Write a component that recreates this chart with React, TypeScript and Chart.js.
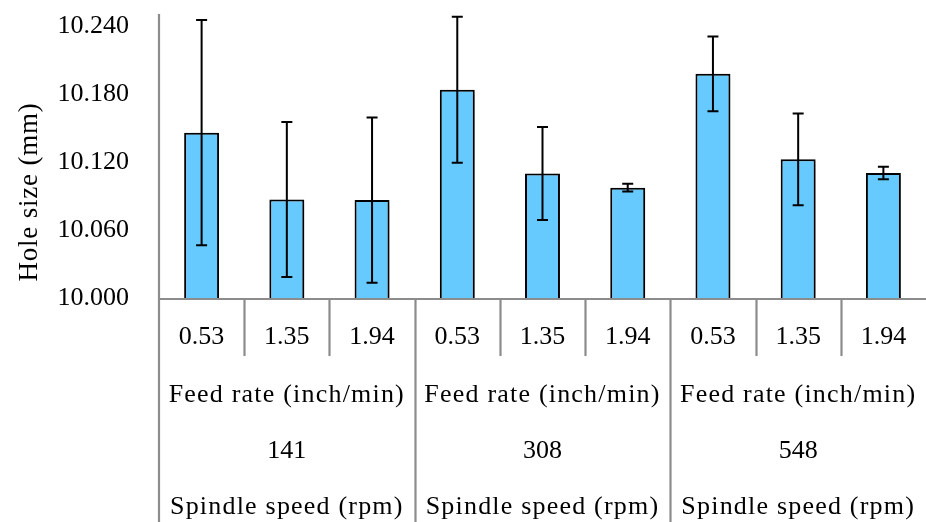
import React, { useEffect, useRef } from "react";
import { Chart, registerables } from "chart.js";

Chart.register(...registerables);

const feedRates = ["0.53", "1.35", "1.94"];
const spindleSpeeds = ["141", "308", "548"];
const feedLabel = "Feed rate (inch/min)";
const speedLabel = "Spindle speed (rpm)";
const yTitle = "Hole size (mm)";
const holeSize = [10.146, 10.087, 10.0865, 10.184, 10.110, 10.0975, 10.198, 10.1225, 10.1105];
const holeErr = [0.0995, 0.0685, 0.073, 0.0645, 0.041, 0.0035, 0.033, 0.0405, 0.0055];
const yTicks = [10.0, 10.06, 10.12, 10.18, 10.24];

const categories: string[] = [];
spindleSpeeds.forEach((s) => feedRates.forEach((f) => categories.push(s + "|" + f)));

const FONT = "'Liberation Serif', 'Times New Roman', serif";

const tablePlugin = {
  id: "tableAxis",
  beforeDatasetDraw(chart: any) {
    const ctx = chart.ctx;
    ctx.save();
    ctx.shadowColor = "rgba(0,0,0,0.28)";
    ctx.shadowBlur = 4;
    ctx.shadowOffsetX = 2;
    ctx.shadowOffsetY = 2;
  },
  afterDatasetDraw(chart: any) {
    chart.ctx.restore();
  },
  afterDatasetsDraw(chart: any) {
    const ctx = chart.ctx;
    const ys = chart.scales.y;
    const meta = chart.getDatasetMeta(0);
    ctx.save();
    ctx.strokeStyle = "#000";
    ctx.lineWidth = 2;
    meta.data.forEach((bar: any, i: number) => {
      const x = bar.x;
      const hi = ys.getPixelForValue(holeSize[i] + holeErr[i]);
      const lo = ys.getPixelForValue(holeSize[i] - holeErr[i]);
      const c = 5.5;
      ctx.beginPath();
      ctx.moveTo(x, hi);
      ctx.lineTo(x, lo);
      ctx.moveTo(x - c, hi);
      ctx.lineTo(x + c, hi);
      ctx.moveTo(x - c, lo);
      ctx.lineTo(x + c, lo);
      ctx.stroke();
    });
    ctx.restore();
  },
  afterDraw(chart: any) {
    const ctx = chart.ctx;
    const area = chart.chartArea;
    const n = categories.length;
    const catW = (area.right - area.left) / n;
    const base = area.bottom + 1;
    const H = chart.height;
    ctx.save();
    ctx.strokeStyle = "#8c8c8c";
    ctx.lineWidth = 2.2;
    ctx.beginPath();
    ctx.moveTo(area.left, base);
    ctx.lineTo(chart.width, base);
    ctx.moveTo(area.left, area.top - 1);
    ctx.lineTo(area.left, H);
    for (let i = 1; i < n; i++) {
      const x = Math.round(area.left + i * catW) + 0.5;
      ctx.moveTo(x, base);
      ctx.lineTo(x, i % 3 === 0 ? H : base + 57);
    }
    ctx.stroke();

    ctx.fillStyle = "#000";
    ctx.textAlign = "center";
    ctx.textBaseline = "middle";
    ctx.font = "26px " + FONT;
    for (let i = 0; i < n; i++) {
      const x = area.left + (i + 0.5) * catW;
      ctx.fillText(feedRates[i % 3], x, base + 38);
    }
    for (let g = 0; g < spindleSpeeds.length; g++) {
      const x = area.left + (g * 3 + 1.5) * catW;
      (ctx as any).letterSpacing = "1.2px";
      ctx.fillText(feedLabel, x, base + 96);
      ctx.fillText(speedLabel, x, base + 208);
      (ctx as any).letterSpacing = "0px";
      ctx.fillText(spindleSpeeds[g], x, base + 152);
    }
    ctx.translate(30, 192);
    ctx.rotate(-Math.PI / 2);
    ctx.font = "27px " + FONT;
    (ctx as any).letterSpacing = "0.8px";
    ctx.fillText(yTitle, 0, 0);
    ctx.restore();
  },
};

export default function App() {
  const ref = useRef<HTMLCanvasElement>(null);
  useEffect(() => {
    if (!ref.current) return;
    const chart = new Chart(ref.current, {
      type: "bar",
      data: {
        labels: categories,
        datasets: [
          {
            data: holeSize,
            backgroundColor: "#66CAFE",
            borderColor: "#000",
            borderWidth: 2,
            barPercentage: 0.41,
            categoryPercentage: 1,
          },
        ],
      },
      options: {
        responsive: false,
        animation: false,
        layout: { padding: { top: 15, bottom: 224, left: 0, right: 0 } },
        plugins: { legend: { display: false }, tooltip: { enabled: false } },
        scales: {
          x: { display: false, offset: true },
          y: {
            min: 10,
            max: 10.25,
            afterBuildTicks: (axis: any) => {
              axis.ticks = yTicks.map((v) => ({ value: v }));
            },
            afterFit: (axis: any) => {
              axis.width = 159;
            },
            grid: { display: false, drawTicks: true, tickLength: 30 },
            border: { display: false },
            ticks: {
              padding: 0,
              color: "#000",
              font: { family: FONT, size: 26, lineHeight: 1 },
              callback: (v: any) => Number(v).toFixed(3),
            },
          },
        },
      },
      plugins: [tablePlugin],
    });
    return () => chart.destroy();
  }, []);
  return (
    <div style={{ position: "absolute", left: 0, top: 0, width: 926, height: 522, background: "#fff" }}>
      <canvas ref={ref} width={926} height={522} />
    </div>
  );
}
